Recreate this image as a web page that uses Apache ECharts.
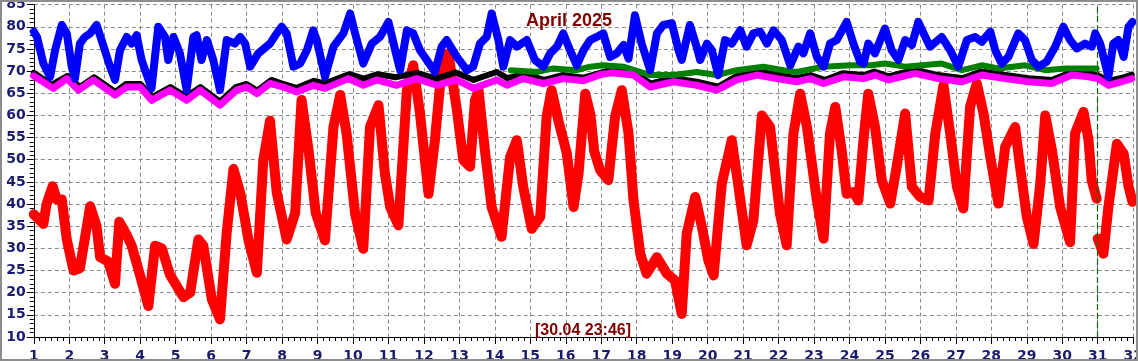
<!DOCTYPE html>
<html>
<head>
<meta charset="utf-8">
<script src="https://cdn.jsdelivr.net/npm/echarts@6/dist/echarts.min.js"></script>
<style>
html,body{margin:0;padding:0;background:#fff;}
#chart{width:1138px;height:361px;}
</style>
</head>
<body>
<div id="chart"></div>
<script>
// ---- data: [day of month (fractional), °F] ----
var titleText = 'April 2025';
var stampText = '[30.04 23:46]';
var unitName = '°F';
var dayTicks = { min: 1, max: 32, step: 1 };
var tempTicks = { min: 10, max: 85, step: 5 };
var markDay = 31;

var outdoorMain = [
 [1.0,37.7],[1.27,35.5],[1.36,40],[1.53,44],[1.65,41],[1.79,41],[1.93,32],[2.12,25],[2.30,25.5],
 [2.59,39.5],[2.77,35],[2.87,28],[3.10,27],[3.29,22],[3.41,36],[3.62,33],[3.76,30.6],[4.0,23.8],
 [4.23,17],[4.42,30.6],[4.61,30],[4.84,24],[5.22,19],[5.41,20],[5.64,32],[5.78,30.6],[6.02,18.5],
 [6.25,14],[6.44,33.6],[6.63,47.9],[6.82,42.6],[7.05,32],[7.29,24.5],[7.47,49.8],[7.66,58.8],
 [7.85,42.6],[8.13,32],[8.37,38],[8.55,63.5],[8.75,52],[8.95,38],[9.21,31.8],[9.45,57.4],
 [9.64,64.6],[9.82,55.9],[10.06,37.8],[10.29,29.9],[10.48,57.4],[10.72,62.3],[10.90,46.9],
 [11.05,39.3],[11.28,35.2],[11.52,65.7],[11.70,71.3],[11.89,60.4],[12.13,42.3],[12.31,54.4],
 [12.46,67.2],[12.69,74],[12.93,61.2],[13.11,49.9],[13.30,48.4],[13.44,63.4],[13.54,65.7],
 [13.72,52.1],[13.91,39.3],[14.19,32.6],[14.43,50.6],[14.62,54.4],[14.80,43.9],[15.04,34.4],
 [15.28,37.1],[15.46,59.7],[15.60,65.7],[15.79,58.9],[16.03,51.4],[16.22,39.3],[16.36,46.9],
 [16.55,64.9],[16.70,60],[16.80,52],[16.97,47.6],[17.20,45.4],[17.39,59.7],[17.58,65.7],
 [17.77,55.9],[17.91,40.8],[18.10,28.8],[18.28,24.3],[18.57,28],[18.85,24.3],[19.08,22.8],
 [19.27,15.2],[19.41,33.3],[19.65,41.6],[19.84,34.8],[20.02,27.3],[20.17,23.9],[20.40,44.6],
 [20.68,54.4],[20.87,43.9],[21.10,30.7],[21.29,36.3],[21.53,60],[21.76,57.4],[22.04,37.8],
 [22.23,30.7],[22.42,55.9],[22.61,64.9],[22.80,57.4],[23.08,40.8],[23.27,32.2],[23.45,55.9],
 [23.60,61.9],[23.78,52.1],[23.92,42.3],[24.11,42.7],[24.25,40.8],[24.40,55],[24.53,64.9],
 [24.72,57.4],[24.91,45.4],[25.15,40.1],[25.33,48.4],[25.57,60.4],[25.76,43.9],[25.99,41.6],
 [26.23,40.8],[26.42,55.9],[26.65,66.8],[26.84,55.9],[27.03,43.9],[27.21,39],[27.40,61.9],
 [27.59,67.2],[27.78,60.4],[27.97,50.6],[28.20,40.1],[28.39,52.9],[28.67,57.4],[28.81,48.4],
 [29.00,37.1],[29.19,31],[29.38,44.6],[29.52,60],[29.71,52.1],[29.94,39.3],[30.22,31.4],
 [30.36,55.9],[30.60,60.8],[30.74,54.4],[30.83,45.4],[30.97,41.2]
];
var outdoorLast = [
 [31.0,32.2],[31.16,28.8],[31.30,39.3],[31.54,53.6],[31.73,51.4],[31.87,43.9],[31.98,40.5]
];
var humidityBlue = [
 [1.0,78.9],[1.09,77.7],[1.27,71.7],[1.46,68.7],[1.60,74.7],[1.79,80.4],[1.93,78.5],[2.07,71],
 [2.16,68.3],[2.30,76.2],[2.44,77.7],[2.59,78.5],[2.77,80.4],[2.91,77],[3.15,71],[3.29,68],
 [3.43,74.7],[3.62,77.7],[3.76,76.2],[3.90,78.1],[4.04,72.5],[4.32,66.1],[4.51,80],[4.70,77.7],
 [4.79,72.5],[4.94,77.7],[5.12,74],[5.31,65.7],[5.50,77.7],[5.59,78.1],[5.73,72.5],[5.88,77],
 [6.06,72.5],[6.25,65.7],[6.44,77],[6.67,76.2],[6.82,77.7],[6.96,76.2],[7.10,71],[7.33,74],
 [7.66,76.2],[7.85,78.5],[7.99,80],[8.13,78.5],[8.32,71],[8.51,71.7],[8.70,74.7],[8.88,79.2],
 [8.98,77],[9.21,68.7],[9.45,75.5],[9.73,78.5],[9.92,83],[10.06,78.5],[10.29,71.7],[10.53,76.2],
 [10.76,77.7],[11.0,81.1],[11.19,74.7],[11.33,70.2],[11.52,79.2],[11.70,78.5],[11.89,74.7],
 [12.08,72.5],[12.31,69.8],[12.50,75.5],[12.64,77],[12.93,73.2],[13.21,70.2],[13.39,71],
 [13.58,76.2],[13.77,77.7],[13.91,83],[14.10,77],[14.24,71],[14.43,77],[14.62,75.5],[14.90,77],
 [15.13,72.5],[15.37,71],[15.56,74],[15.75,75.5],[15.93,78.5],[16.12,74.7],[16.31,71.3],
 [16.50,74.7],[16.69,77],[16.87,77.7],[17.06,78.5],[17.25,73.2],[17.44,74],[17.63,75.9],
 [17.77,72.8],[17.95,82.6],[18.14,76.2],[18.38,70.2],[18.57,78.5],[18.75,80.4],[18.99,80.8],
 [19.18,74.7],[19.27,72.5],[19.50,80.4],[19.69,75.5],[19.79,72.5],[19.98,76.2],[20.12,74.7],
 [20.30,69.1],[20.49,77],[20.68,76.2],[20.92,79.2],[21.10,75.5],[21.29,78.5],[21.48,78.9],
 [21.67,76.2],[21.86,79.2],[22.09,77],[22.33,71.3],[22.56,75.5],[22.70,74],[22.89,78.5],
 [23.08,73.2],[23.27,71],[23.45,76.2],[23.64,77],[23.92,81.1],[24.11,76.2],[24.30,72.1],
 [24.40,71.7],[24.53,76.2],[24.72,74],[25.0,79.6],[25.19,74.7],[25.38,72.5],[25.57,77],
 [25.76,75.9],[25.94,81.1],[26.09,78.5],[26.27,75.5],[26.60,77.7],[26.84,74.7],[27.07,71],
 [27.31,77],[27.54,77.7],[27.73,76.6],[27.97,78.9],[28.11,74.7],[28.29,71.7],[28.48,73.2],
 [28.76,78.5],[28.95,77],[29.14,72.5],[29.33,71],[29.56,72.1],[29.80,75.5],[30.03,80],
 [30.22,77],[30.41,75.1],[30.64,76.2],[30.83,75.5],[30.93,78.5],[31.07,76.2],[31.30,68.7],
 [31.44,76.2],[31.58,77],[31.73,73.2],[31.87,80],[31.98,81.1]
];
var indoorBlack = [
 [1.0,69.6],[1.5,66.9],[1.95,68.9],[2.3,66.4],[2.7,68.6],[3.3,65.3],[3.6,67.1],[4.0,67.1],[4.35,64.2],
 [4.85,66.4],[5.3,64.2],[5.7,66.4],[6.25,63.1],[6.7,66.4],[7.0,67.1],[7.3,65.6],[7.7,68],[8.0,67.2],
 [8.4,66.2],[8.9,67.8],[9.2,67.2],[9.9,69.3],[10.3,68.3],[10.7,69.3],[11.2,68.6],[11.8,69.6],
 [12.35,68.3],[12.9,69.7],[13.4,68],[14.05,69.8],[14.35,68.4],[14.8,69.3],[15.4,68],[15.9,69.1],
 [16.5,68.5],[17.3,70.3],[17.9,69.8],[18.4,67.2],[19.0,68.4],[19.7,67.6],[20.3,66.5],[20.8,68.8],
 [21.4,69.9],[22.0,69.1],[22.5,68.4],[22.9,69.1],[23.3,68],[23.8,69.5],[24.4,69.1],[24.7,69.9],
 [25.1,68.8],[25.85,70.3],[26.5,69.1],[27.2,68.4],[27.7,69.9],[28.4,69.1],[29.05,68.4],
 [29.7,68],[30.3,69.9],[30.7,69.5],[31.0,69.1],[31.3,67.8],[31.7,68.5],[31.96,69.2]
];
var indoorGreen = [
 [14.45,70.2],[15.18,69.8],[15.65,70.6],[16.31,70.2],[16.69,71],[17.06,71.3],[17.62,71],
 [18.38,69.1],[19.04,69.1],[19.69,69.8],[20.26,69.1],[20.82,70.2],[21.57,71],[22.14,70.2],
 [22.51,69.8],[23.27,71],[24.02,71.3],[24.6,71.3],[25.0,71.7],[25.57,71],[26.60,71.7],
 [27.17,70.2],[27.73,71.3],[28.20,70.6],[28.95,71.3],[29.52,70.2],[30.08,70.6],[30.97,70.6]
];
var indoorMagenta = [
 [1.0,68.9],[1.55,66.1],[1.93,68.3],[2.26,65.7],[2.68,68],[3.29,64.6],[3.62,66.4],[4.0,66.4],
 [4.32,63.4],[4.84,65.7],[5.31,63.4],[5.69,65.7],[6.25,62.3],[6.72,65.7],[7.0,66.4],[7.29,64.9],
 [7.66,67.2],[8.04,66.4],[8.41,65.3],[8.88,66.8],[9.21,66.1],[9.87,68.3],[10.29,66.8],[10.67,68],
 [11.23,66.8],[11.80,68.3],[12.36,66.8],[12.93,68],[13.40,66.1],[14.05,68],[14.34,66.8],
 [14.80,68.3],[15.37,67.2],[15.93,68.3],[16.50,67.8],[16.97,69.2],[17.30,69.6],[17.91,69.1],
 [18.38,66.4],[19.04,67.6],[19.69,66.8],[20.26,65.7],[20.82,68],[21.39,69.1],[21.95,68.3],
 [22.51,67.6],[22.89,68.3],[23.27,67.2],[23.83,68.7],[24.39,68.3],[24.72,69.1],[25.10,68],
 [25.85,69.5],[26.51,68.3],[27.17,67.6],[27.73,69.1],[28.39,68.3],[29.05,67.6],[29.70,67.2],
 [30.27,69.1],[30.74,68.7],[31.0,68.3],[31.30,66.8],[31.68,67.6],[31.96,68.3]
];

var axisBlue = '#1a1a6e';
var darkRed = '#800000';
var gridGray = '#8a8a8a';

function lineSeries(data, color, width, z) {
  return {
    type: 'line', data: data, showSymbol: false, symbol: 'none', smooth: false,
    z: z, silent: true,
    lineStyle: { color: color, width: width, cap: 'round', join: 'round' }
  };
}

var chart = echarts.init(document.getElementById('chart'), null, { renderer: 'canvas' });
var greenSeries = lineSeries(indoorGreen, '#008000', 6, 4);
greenSeries.markLine = {
  silent: true, symbol: ['none', 'none'], label: { show: false },
  lineStyle: { color: '#0b6b0b', type: [6, 3], width: 1.2, opacity: 1 },
  data: [{ xAxis: markDay }]
};
chart.setOption({
  animation: false,
  backgroundColor: '#ffffff',
  title: {
    text: titleText, left: 'center', top: 12, padding: 0,
    textStyle: { color: darkRed, fontFamily: 'Liberation Sans, Arial, sans-serif', fontSize: 18, fontWeight: 'bold' }
  },
  grid: { left: 33.8, right: 4.8, top: 4.6, bottom: 24, outerBoundsMode: 'none', containLabel: false },
  xAxis: {
    type: 'value', min: dayTicks.min, max: dayTicks.max, interval: dayTicks.step,
    axisLine: { show: true, onZero: false, lineStyle: { color: '#000', width: 1 } },
    axisTick: { show: true, length: 7, lineStyle: { color: '#000' } },
    minorTick: { show: true, splitNumber: 6, length: 4, lineStyle: { color: '#000' } },
    splitLine: { show: true, lineStyle: { color: gridGray, type: [4, 3], width: 1 } },
    axisLabel: { margin: 12, color: axisBlue, fontFamily: 'DejaVu Sans, sans-serif', fontSize: 14, fontWeight: 'bold' }
  },
  yAxis: {
    type: 'value', min: tempTicks.min, max: tempTicks.max, interval: tempTicks.step,
    name: unitName, nameLocation: 'middle', nameRotate: 90, nameGap: 25,
    nameTextStyle: { color: darkRed, fontSize: 11, fontFamily: 'Liberation Sans, Arial, sans-serif' },
    axisLine: { show: true, onZero: false, lineStyle: { color: '#000', width: 1 } },
    axisTick: { show: true, length: 7, lineStyle: { color: '#000' } },
    minorTick: { show: true, splitNumber: 5, length: 4, lineStyle: { color: '#000' } },
    splitLine: { show: true, lineStyle: { color: gridGray, type: [4, 3], width: 1 } },
    axisLabel: { margin: 8, color: axisBlue, fontFamily: 'DejaVu Sans, sans-serif', fontSize: 14, fontWeight: 'bold' }
  },
  graphic: [
    {
      type: 'text', left: 535, top: 323, z: 100,
      style: { text: stampText, fill: darkRed, font: 'bold 16px "Liberation Sans", Arial, sans-serif' }
    },
    {
      type: 'rect', z: 100, silent: true,
      shape: { x: 1, y: 1, width: 1136, height: 359 },
      style: { fill: 'none', stroke: '#8c8c8c', lineWidth: 2 }
    }
  ],
  series: [
    lineSeries(outdoorMain, '#ff0000', 10, 2),
    lineSeries(outdoorLast, '#ff0000', 10, 2),
    lineSeries(indoorBlack, '#000000', 6, 3),
    greenSeries,
    lineSeries(indoorMagenta, '#ff00ff', 7, 5),
    lineSeries(humidityBlue, '#0000ff', 8, 6)
  ]
});
</script>
</body>
</html>
